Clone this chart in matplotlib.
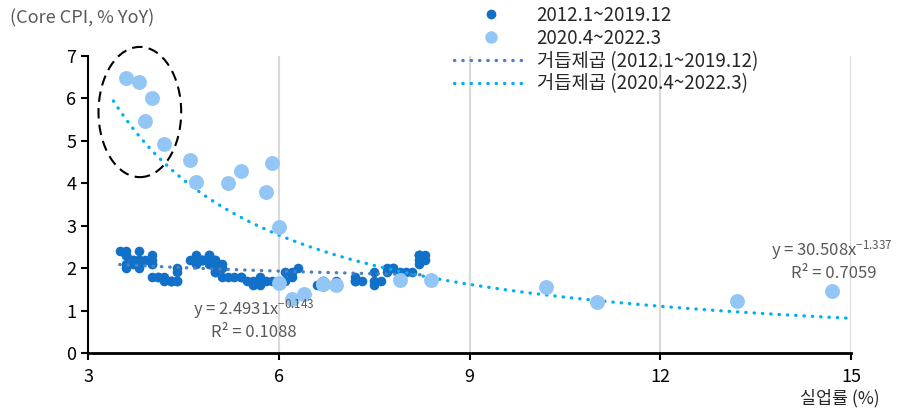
import numpy as np
import matplotlib
matplotlib.use("Agg")
import matplotlib.pyplot as plt
from matplotlib.patches import Ellipse
from matplotlib.lines import Line2D

plt.rcParams['font.family'] = ['Noto Sans CJK KR', 'DejaVu Sans']

# 2012.1 ~ 2019.12 : unemployment rate (%), core CPI (% YoY)
unemp_1219 = [
    8.3, 8.3, 8.2, 8.2, 8.2, 8.2, 8.2, 8.1, 7.8, 7.8, 7.7, 7.9,
    8.0, 7.7, 7.5, 7.6, 7.5, 7.5, 7.3, 7.2, 7.2, 7.2, 6.9, 6.7,
    6.6, 6.7, 6.7, 6.2, 6.3, 6.1, 6.2, 6.1, 5.9, 5.7, 5.8, 5.6,
    5.7, 5.5, 5.4, 5.4, 5.6, 5.3, 5.2, 5.1, 5.0, 5.0, 5.1, 5.0,
    4.8, 4.9, 5.0, 5.1, 4.8, 4.9, 4.8, 4.9, 5.0, 4.9, 4.7, 4.7,
    4.7, 4.6, 4.4, 4.4, 4.4, 4.3, 4.3, 4.4, 4.3, 4.2, 4.2, 4.1,
    4.0, 4.1, 4.0, 4.0, 3.8, 4.0, 3.8, 3.8, 3.7, 3.8, 3.8, 3.9,
    4.0, 3.8, 3.8, 3.7, 3.6, 3.6, 3.7, 3.6, 3.5, 3.6, 3.6, 3.6,
]
cpi_1219 = [
    2.3, 2.2, 2.3, 2.3, 2.3, 2.2, 2.1, 1.9, 2.0, 2.0, 1.9, 1.9,
    1.9, 2.0, 1.9, 1.7, 1.7, 1.6, 1.7, 1.8, 1.7, 1.7, 1.7, 1.7,
    1.6, 1.6, 1.7, 1.8, 2.0, 1.9, 1.9, 1.7, 1.7, 1.8, 1.7, 1.6,
    1.6, 1.7, 1.8, 1.8, 1.7, 1.8, 1.8, 1.8, 1.9, 1.9, 2.0, 2.1,
    2.2, 2.3, 2.2, 2.1, 2.2, 2.2, 2.2, 2.3, 2.2, 2.1, 2.1, 2.2,
    2.3, 2.2, 2.0, 1.9, 1.7, 1.7, 1.7, 1.7, 1.7, 1.8, 1.7, 1.8,
    1.8, 1.8, 2.1, 2.1, 2.2, 2.3, 2.4, 2.2, 2.2, 2.1, 2.2, 2.2,
    2.2, 2.1, 2.0, 2.1, 2.0, 2.1, 2.2, 2.4, 2.4, 2.3, 2.3, 2.3,
]

# 2020.4 ~ 2022.3
unemp_2022 = [14.7, 13.2, 11.0, 10.2, 8.4, 7.9, 6.9, 6.7, 6.7, 6.4, 6.2, 6.0,
              6.0, 5.8, 5.9, 5.4, 5.2, 4.7, 4.6, 4.2, 3.9, 4.0, 3.8, 3.6]
cpi_2022 = [1.45, 1.22, 1.2, 1.55, 1.72, 1.73, 1.6, 1.63, 1.62, 1.4, 1.28, 1.65,
            2.96, 3.8, 4.47, 4.28, 4.0, 4.03, 4.55, 4.93, 5.47, 6.0, 6.38, 6.48]

# power trendlines (Excel)
fit_1219 = (2.4931, -0.143)
fit_2022 = (30.508, -1.337)

dark = '#1170c8'
light = '#93c6f4'
trend_dark = '#4f7fbf'
trend_light = '#00b0f0'
gray = '#595959'

fig = plt.figure(figsize=(8.98, 4.09), dpi=100)
ax = fig.add_axes([0.098, 0.137, 0.85, 0.726])

for x in [6, 9, 12, 15]:
    ax.axvline(x, color='#d9d9d9', lw=1.5, zorder=0)

xs1 = np.linspace(min(unemp_1219), max(unemp_1219), 200)
xs2 = np.linspace(3.4, 14.95, 400)
dots = (0, (0.1, 2.4))
ax.plot(xs1, fit_1219[0] * xs1 ** fit_1219[1], color=trend_dark, lw=2.4,
        linestyle=dots, dash_capstyle='round', zorder=3)
ax.plot(xs2, fit_2022[0] * xs2 ** fit_2022[1], color=trend_light, lw=2.4,
        linestyle=dots, dash_capstyle='round', zorder=3)

ax.scatter(unemp_1219, cpi_1219, s=48, color=dark, zorder=2, linewidths=0)
ax.scatter(unemp_2022, cpi_2022, s=115, color=light, zorder=4, linewidths=0)

ell = Ellipse((3.815, 5.68), 1.30, 3.07, fill=False, ls=(0, (5, 3)),
              lw=1.5, color='black', clip_on=False, zorder=5)
ax.add_patch(ell)

ax.text(4.65, 0.9, r'y = 2.4931x$\mathregular{^{-0.143}}$', color=gray, fontsize=12, zorder=6)
ax.text(5.6, 0.38, 'R² = 0.1088', color=gray, fontsize=12, ha='center', zorder=6)
ax.text(15.65, 2.3, r'y = 30.508x$\mathregular{^{-1.337}}$', color=gray, fontsize=12, ha='right', zorder=6)
ax.text(15.4, 1.77, 'R² = 0.7059', color=gray, fontsize=12, ha='right', zorder=6)

ax.set_xlim(3, 15)
ax.set_ylim(0, 7)
ax.set_xticks([3, 6, 9, 12, 15])
ax.set_yticks(range(8))
for s in ['top', 'right']:
    ax.spines[s].set_visible(False)
ax.spines['left'].set_linewidth(1.5)
ax.spines['bottom'].set_linewidth(2)
ax.tick_params(axis='both', labelsize=13, colors='black', width=1.5, length=5)
ax.tick_params(axis='x', pad=6)

fig.text(0.011, 0.955, '(Core CPI, % YoY)', color=gray, fontsize=13, va='center')
fig.text(0.98, 0.027, '실업률 (%)', color='#262626', fontsize=12.5, ha='right', va='center')

handles = [
    Line2D([], [], marker='o', ls='none', color=dark, markersize=6),
    Line2D([], [], marker='o', ls='none', color=light, markersize=8),
    Line2D([], [], color=trend_dark, lw=2.4, linestyle=dots, dash_capstyle='round'),
    Line2D([], [], color=trend_light, lw=2.4, linestyle=dots, dash_capstyle='round'),
]
labels = ['2012.1~2019.12', '2020.4~2022.3', '거듭제곱 (2012.1~2019.12)', '거듭제곱 (2020.4~2022.3)']
leg = fig.legend(handles, labels, loc='upper left', bbox_to_anchor=(0.491, 1.02),
                 frameon=False, fontsize=13.5, handlelength=3.9, labelspacing=0.1,
                 handletextpad=0.5, borderpad=0.2)
for t in leg.get_texts():
    t.set_color('#262626')

fig.savefig('out.png', dpi=100)
